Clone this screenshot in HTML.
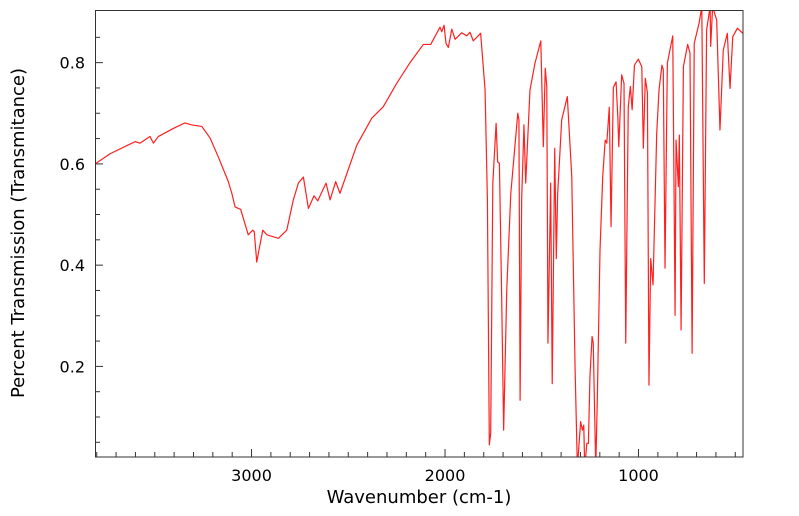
<!DOCTYPE html>
<html><head><meta charset="utf-8"><style>
html,body{margin:0;padding:0;background:#fff;}
svg{display:block;font-family:"DejaVu Sans","Liberation Sans",sans-serif;}
</style></head><body>
<svg id="chart" width="799" height="516" viewBox="0 0 799 516" xmlns="http://www.w3.org/2000/svg">
<defs><clipPath id="plotclip"><rect x="95" y="10" width="648" height="447"/></clipPath></defs>
<g id="yticks"></g>
<g id="xticks"></g>
<path id="spectrum" clip-path="url(#plotclip)" fill="none" stroke="#ff2020" stroke-width="1.2" stroke-linejoin="round"/>
<rect x="95.5" y="10.5" width="647.5" height="446.5" fill="none" stroke="#333" stroke-width="1"/>
<text x="419" y="503" font-size="18" text-anchor="middle">Wavenumber (cm-1)</text>
<text transform="translate(24,233) rotate(-90)" font-size="18" text-anchor="middle">Percent Transmission (Transmitance)</text>
</svg>
<script>
const wavenumbers = [3804,3731,3602,3576,3525,3507,3482,3404,3344,3309,3257,3214,3172,3120,3102,3085,3056,3017,2994,2986,2973,2965,2942,2921,2861,2818,2784,2758,2732,2706,2677,2658,2615,2594,2565,2543,2456,2379,2319,2250,2181,2112,2074,2026,2017,2005,1995,1983,1965,1948,1914,1888,1871,1854,1816,1793,1781,1771,1764,1753,1736,1728,1719,1707,1697,1681,1660,1624,1618,1612,1604,1592,1583,1561,1535,1505,1492,1482,1474,1468,1454,1446,1433,1425,1418,1397,1368,1345,1328,1316,1299,1290,1283,1278,1267,1259,1251,1240,1234,1221,1213,1199,1185,1172,1164,1151,1142,1130,1116,1107,1102,1087,1075,1066,1053,1042,1033,1021,1001,983,975,965,954,946,937,925,906,894,879,872,863,851,823,811,806,794,789,780,768,746,734,723,712,687,673,660,648,630,627,617,596,579,562,541,527,513,489,461];
const transmission = [0.601,0.620,0.644,0.641,0.654,0.641,0.654,0.670,0.681,0.677,0.674,0.651,0.614,0.565,0.542,0.515,0.510,0.460,0.469,0.466,0.406,0.423,0.469,0.460,0.453,0.469,0.529,0.562,0.574,0.512,0.537,0.527,0.562,0.529,0.565,0.542,0.637,0.690,0.713,0.759,0.800,0.836,0.836,0.870,0.861,0.874,0.838,0.830,0.866,0.846,0.859,0.853,0.860,0.843,0.858,0.746,0.529,0.045,0.068,0.562,0.680,0.604,0.601,0.331,0.074,0.351,0.542,0.700,0.687,0.133,0.529,0.677,0.562,0.746,0.799,0.843,0.634,0.789,0.753,0.246,0.562,0.166,0.631,0.413,0.539,0.687,0.733,0.575,0.199,0.0,0.091,0.074,0.084,0.0,0.048,0.048,0.180,0.259,0.246,0.0,0.133,0.430,0.575,0.647,0.641,0.712,0.476,0.751,0.762,0.693,0.634,0.776,0.759,0.246,0.713,0.753,0.707,0.795,0.807,0.792,0.631,0.769,0.740,0.163,0.413,0.361,0.660,0.746,0.795,0.786,0.394,0.799,0.853,0.301,0.647,0.555,0.657,0.272,0.792,0.836,0.819,0.226,0.838,0.878,0.91,0.364,0.865,0.91,0.832,0.91,0.884,0.667,0.825,0.858,0.749,0.851,0.868,0.858];
const xTickLabels = [3000,2000,1000];
const yTickLabels = [0.2,0.4,0.6,0.8];

const X0=95, X1=743, Y0=10, Y1=457;
const WN_MAX=3809, WN_MIN=460, T_MIN=0.021, T_MAX=0.904;
function xScale(w){return X0+(WN_MAX-w)/(WN_MAX-WN_MIN)*(X1-X0);}
function yScale(t){return Y1-(t-T_MIN)/(T_MAX-T_MIN)*(Y1-Y0);}
const NS="http://www.w3.org/2000/svg";

let d="";
for(let i=0;i<wavenumbers.length;i++){
  d+=(i?"L":"M")+xScale(wavenumbers[i]).toFixed(2)+","+yScale(transmission[i]).toFixed(2);
}
document.getElementById('spectrum').setAttribute('d',d);

const yt=document.getElementById('yticks');
for(let v=0.05;v<0.9;v+=0.05){
  const vv=Math.round(v*100)/100;
  const major=Math.abs(vv*10-Math.round(vv*10))<1e-6 && Math.round(vv*10)%2===0;
  const ln=document.createElementNS(NS,'line');
  
  
  const y=yScale(vv);
  ln.setAttribute('x1',X0);ln.setAttribute('x2',X0+(major?8:5));
  ln.setAttribute('y1',y);ln.setAttribute('y2',y);
  ln.setAttribute('stroke','#333');
  yt.appendChild(ln);
}
yTickLabels.forEach(v=>{
  const t=document.createElementNS(NS,'text');
  
  
  t.setAttribute('x',85);t.setAttribute('y',yScale(v)+6);
  t.setAttribute('text-anchor','end');t.setAttribute('font-size','16');
  t.textContent=v.toFixed(1);
  yt.appendChild(t);
});
const xt=document.getElementById('xticks');
for(let w=3800;w>=500;w-=100){
  const major=w%1000===0;
  const ln=document.createElementNS(NS,'line');
  
  
  const x=xScale(w);
  ln.setAttribute('x1',x);ln.setAttribute('x2',x);
  ln.setAttribute('y1',Y1);ln.setAttribute('y2',Y1-(major?8:5));
  ln.setAttribute('stroke','#333');
  xt.appendChild(ln);
}
xTickLabels.forEach(v=>{
  const t=document.createElementNS(NS,'text');
  
  
  t.setAttribute('x',xScale(v));t.setAttribute('y',481);
  t.setAttribute('text-anchor','middle');t.setAttribute('font-size','16');
  t.textContent=v;
  xt.appendChild(t);
});
</script>
</body></html>
